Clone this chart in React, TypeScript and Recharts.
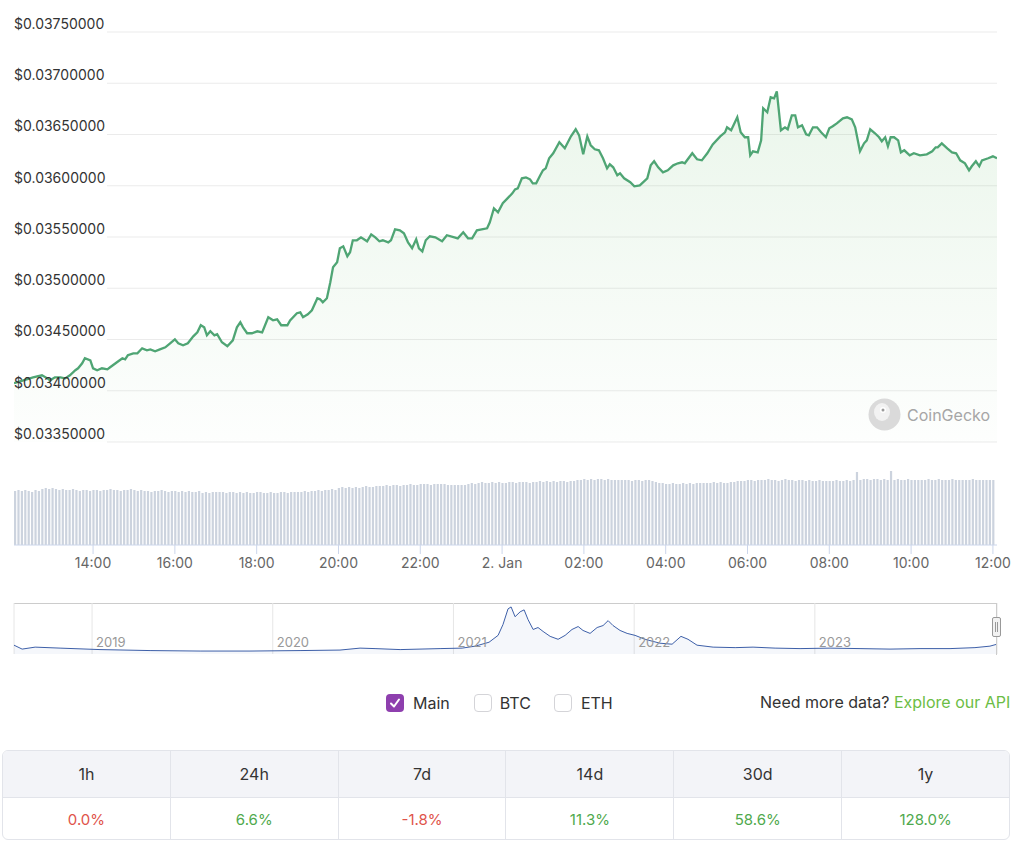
import React from "react";
import { AreaChart, Area, BarChart, Bar, XAxis, YAxis, CartesianGrid } from "recharts";

const FONT = "Inter, 'Helvetica Neue', Arial, sans-serif";

// price, minutes after 12:00 on 1 Jan
const priceMinutes = [
  4, 13, 32, 45, 53, 57, 64, 72, 79, 86, 94, 98, 104, 108, 116, 120, 126, 133, 141, 145, 155, 163, 167, 171, 179, 185, 192,
  199, 204, 211, 218, 226, 233, 240, 245, 252, 259, 267, 273, 278, 283, 287, 292, 298, 302, 309, 317, 325, 331, 336, 340, 346,
  353, 361, 368, 377, 384, 390, 396, 405, 409, 419, 424, 428, 435, 441, 449, 453, 457, 463, 468, 472, 478, 482, 487, 493, 497,
  501, 507, 513, 522, 528, 534, 540, 545, 553, 557, 563, 570, 576, 582, 588, 594, 598, 603, 608, 614, 622, 632, 639, 650, 655,
  663, 670, 676, 683, 698, 702, 708, 714, 721, 735, 739, 743, 749, 755, 761, 765, 770, 776, 780, 784, 789, 795, 804, 812, 821,
  828, 833, 839, 845, 850, 856, 862, 868, 874, 878, 883, 889, 893, 899, 908, 914, 922, 933, 938, 943, 949, 956, 963, 971, 978,
  984, 988, 999, 1006, 1013, 1021, 1029, 1040, 1047, 1050, 1056, 1065, 1070, 1076, 1081, 1084, 1088, 1095, 1100, 1103, 1109,
  1114, 1119, 1123, 1129, 1135, 1139, 1145, 1150, 1154, 1160, 1166, 1170, 1176, 1182, 1188, 1195, 1200, 1205, 1211, 1220, 1226,
  1233, 1238, 1245, 1251, 1255, 1260, 1267, 1273, 1277, 1282, 1286, 1290, 1295, 1301, 1305, 1310, 1318, 1324, 1333, 1343, 1351,
  1356, 1359, 1365, 1373, 1380, 1386, 1392, 1399, 1405, 1409, 1415, 1420, 1424, 1433, 1440, 1446,
];

const prices = [
  0.034073, 0.034092, 0.034131, 0.034151, 0.034121, 0.034102, 0.034131, 0.034131, 0.034121, 0.034151, 0.0342, 0.034219,
  0.034268, 0.034317, 0.034297, 0.034219, 0.0342, 0.034219, 0.034209, 0.034229, 0.034278, 0.034317, 0.034307, 0.034346,
  0.034365, 0.034365, 0.034414, 0.034395, 0.034404, 0.034385, 0.034404, 0.034424, 0.034463, 0.034502, 0.034463, 0.034443,
  0.034463, 0.034531, 0.03457, 0.034639, 0.034619, 0.034541, 0.03458, 0.034541, 0.034551, 0.034473, 0.034434, 0.034492,
  0.034619, 0.034668, 0.034619, 0.034561, 0.034561, 0.03458,
  0.03457, 0.034717, 0.034687, 0.034697, 0.034639, 0.034639, 0.034687, 0.034756, 0.034765, 0.034717, 0.034746, 0.034785,
  0.034902, 0.034892, 0.034863, 0.034902, 0.035058, 0.035204, 0.035253, 0.03539, 0.035409, 0.035312, 0.035351, 0.035468,
  0.035468, 0.035497, 0.035458, 0.035526, 0.035497, 0.035458, 0.035468, 0.035448, 0.035468, 0.035575, 0.035565, 0.035536,
  0.035448, 0.03539, 0.035478, 0.03539, 0.03536, 0.035468, 0.035507, 0.035497, 0.035458, 0.035517, 0.035497, 0.035487,
  0.035546, 0.035487, 0.035487, 0.035565, 0.035585, 0.035643, 0.03578, 0.035741, 0.035829,
  0.035926, 0.035965, 0.035975, 0.036073, 0.036082, 0.036063, 0.036024, 0.036024, 0.036102, 0.036151, 0.03617, 0.036268,
  0.036317, 0.036424, 0.036365, 0.036482, 0.036551, 0.036492, 0.036307, 0.036482, 0.036395, 0.036356, 0.036346, 0.036268,
  0.03617, 0.036209, 0.03618, 0.036102, 0.036121, 0.036073, 0.036034, 0.035995, 0.036004, 0.036073, 0.036199, 0.036239,
  0.03618, 0.036131, 0.036151, 0.036199, 0.036219, 0.036229, 0.036219, 0.036317, 0.036258, 0.036248, 0.036317, 0.036404,
  0.036482, 0.036521, 0.03657, 0.036541, 0.036668, 0.036521, 0.036473, 0.036473, 0.036297,
  0.036336, 0.036326, 0.036443, 0.036756, 0.036717, 0.036863, 0.036853, 0.036921, 0.036541, 0.03657, 0.036551, 0.036687,
  0.036687, 0.03657, 0.03659, 0.036502, 0.036492, 0.03657, 0.03657, 0.036521, 0.036473, 0.03656, 0.03658, 0.036609,
  0.036658, 0.036668, 0.036648, 0.03657, 0.036336, 0.036414, 0.036443, 0.036551, 0.036512, 0.036473, 0.036434, 0.036473,
  0.036385, 0.036473, 0.036473, 0.036443, 0.036326, 0.036346, 0.036297, 0.036317, 0.036297, 0.036307, 0.036336, 0.036375,
  0.036375, 0.036414, 0.036365, 0.036326, 0.036317, 0.036248, 0.036219, 0.036151, 0.03619, 0.036239, 0.03619, 0.036248,
  0.036268, 0.036287, 0.036268,
];

// 5-minute volume bars (USD millions), one row per hour
const volumes = [
  5.4, 5.5, 5.4, 5.5, 5.4, 5.3, 5.5, 5.4, 5.6, 5.7, 5.6, 5.7,
  5.6, 5.5, 5.6, 5.5, 5.5, 5.6, 5.5, 5.4, 5.5, 5.5, 5.4, 5.5,
  5.5, 5.4, 5.5, 5.5, 5.6, 5.5, 5.5, 5.4, 5.5, 5.5, 5.6, 5.5,
  5.4, 5.5, 5.4, 5.4, 5.3, 5.4, 5.4, 5.5, 5.4, 5.3, 5.4, 5.4,
  5.3, 5.4, 5.3, 5.4, 5.3, 5.3, 5.4, 5.2, 5.3, 5.2, 5.3, 5.3,
  5.3, 5.3, 5.2, 5.3, 5.3, 5.2, 5.3, 5.2, 5.3, 5.2, 5.2, 5.3,
  5.3, 5.2, 5.2, 5.3, 5.2, 5.2, 5.3, 5.3, 5.2, 5.3, 5.3, 5.3,
  5.3, 5.4, 5.3, 5.4, 5.4, 5.5, 5.4, 5.5, 5.5, 5.6, 5.5, 5.7,
  5.8, 5.7, 5.8, 5.7, 5.8, 5.7, 5.8, 5.9, 5.8, 5.8, 5.9, 5.9,
  5.9, 6.0, 5.9, 6.0, 6.0, 5.9, 6.0, 6.0, 6.1, 6.0, 6.0, 6.1,
  6.1, 6.1, 6.0, 6.1, 6.1, 6.1, 6.1, 6.0, 6.0, 6.0, 6.0, 6.0,
  6.0, 6.1, 6.2, 6.1, 6.2, 6.3, 6.2, 6.2, 6.3, 6.2, 6.3, 6.2,
  6.2, 6.3, 6.3, 6.2, 6.3, 6.3, 6.3, 6.2, 6.3, 6.3, 6.4, 6.3,
  6.4, 6.3, 6.4, 6.3, 6.4, 6.4, 6.3, 6.4, 6.4, 6.5, 6.5, 6.6,
  6.5, 6.6, 6.5, 6.6, 6.6, 6.5, 6.6, 6.5, 6.5, 6.5, 6.5, 6.5,
  6.5, 6.4, 6.5, 6.5, 6.4, 6.5, 6.5, 6.4, 6.3, 6.2, 6.2, 6.1,
  6.1, 6.2, 6.1, 6.1, 6.2, 6.1, 6.2, 6.1, 6.2, 6.2, 6.2, 6.2,
  6.2, 6.3, 6.2, 6.3, 6.2, 6.2, 6.3, 6.3, 6.4, 6.4, 6.4, 6.5,
  6.5, 6.4, 6.5, 6.5, 6.5, 6.6, 6.5, 6.5, 6.4, 6.5, 6.6, 6.5,
  6.5, 6.4, 6.5, 6.5, 6.4, 6.5, 6.4, 6.4, 6.5, 6.4, 6.4, 6.4,
  6.4, 6.5, 6.4, 6.4, 6.5, 6.4, 6.5, 7.3, 6.5, 6.6, 6.6, 6.5,
  6.6, 6.6, 6.5, 6.6, 6.5, 7.4, 6.5, 6.6, 6.5, 6.5, 6.6, 6.5,
  6.5, 6.5, 6.5, 6.5, 6.6, 6.5, 6.5, 6.6, 6.5, 6.5, 6.5, 6.6,
  6.5, 6.5, 6.5, 6.5, 6.5, 6.6, 6.5, 6.5, 6.5, 6.5, 6.5, 6.5,
];

const priceTicks = [0.0335, 0.034, 0.0345, 0.035, 0.0355, 0.036, 0.0365, 0.037, 0.0375];
const timeTicks = [120, 240, 360, 480, 600, 720, 840, 960, 1080, 1200, 1320, 1440];
const timeLabels = ["14:00", "16:00", "18:00", "20:00", "22:00", "2. Jan", "02:00", "04:00", "06:00", "08:00", "10:00", "12:00"];

// navigator: all-time history
const navYears = [
  2018.568, 2018.613, 2018.685, 2018.823, 2019.044, 2019.321, 2019.598, 2019.874, 2020.151, 2020.372, 2020.483, 2020.566,
  2020.705, 2020.926, 2021.048, 2021.12, 2021.197, 2021.247, 2021.274, 2021.302, 2021.319, 2021.341, 2021.369, 2021.391,
  2021.413, 2021.441, 2021.468, 2021.496, 2021.535, 2021.579, 2021.618, 2021.656, 2021.69, 2021.717, 2021.756, 2021.795,
  2021.828, 2021.856, 2021.883, 2021.922, 2021.961, 2022.005, 2022.06, 2022.143, 2022.21, 2022.259, 2022.298, 2022.348,
  2022.437, 2022.559, 2022.658, 2022.78, 2022.918, 2023.084, 2023.25, 2023.416, 2023.582, 2023.748, 2023.886, 2023.969, 2024.008,
];
const navPrices = [
  0.036, 0.02, 0.028, 0.024, 0.018, 0.014, 0.012, 0.012, 0.014, 0.016, 0.024, 0.022,
  0.018, 0.022, 0.024, 0.032, 0.048, 0.076, 0.12, 0.184, 0.192, 0.152, 0.172, 0.18,
  0.14, 0.1, 0.108, 0.092, 0.072, 0.06, 0.076, 0.1, 0.112, 0.096, 0.084, 0.108,
  0.116, 0.136, 0.116, 0.096, 0.084, 0.076, 0.06, 0.044, 0.04, 0.072, 0.06, 0.036,
  0.028, 0.026, 0.028, 0.024, 0.022, 0.024, 0.022, 0.02, 0.022, 0.022, 0.026, 0.032, 0.04,
];
const navYearTicks = [2019, 2020, 2021, 2022, 2023];

const periods = ["1h", "24h", "7d", "14d", "30d", "1y"];
const changes = ["0.0%", "6.6%", "-1.8%", "11.3%", "58.6%", "128.0%"];
const changeUp = [false, true, false, true, true, true];

const priceData = priceMinutes.map((t, i) => ({ t, price: prices[i] }));
const volumeData = volumes.map((v, i) => ({ t: 5 + i * 5, volume: v }));
const navData = navYears.map((year, i) => ({ year, price: navPrices[i] }));

const PriceTick = ({ y, payload }: any) => (
  <text x={14} y={y - 8} dy="0.35em" fontSize={14} fill="#333" fontFamily={FONT} textAnchor="start">
    {`$${Number(payload.value).toFixed(8)}`}
  </text>
);

const YearTick = ({ x, y, payload }: any) => (
  <text x={x + 4} y={y - 15} fontSize={13} fill="#999" fontFamily={FONT} textAnchor="start">
    {payload.value}
  </text>
);

function CheckBox({ checked }: { checked?: boolean }) {
  return (
    <div
      style={{
        width: 18, height: 18, borderRadius: 4, boxSizing: "border-box",
        background: checked ? "#8e3fae" : "#fff",
        border: checked ? "none" : "1px solid #d4d4d8",
        display: "flex", alignItems: "center", justifyContent: "center",
      }}
    >
      {checked && (
        <svg width="12" height="12" viewBox="0 0 12 12">
          <path d="M2 6.5 L5 9.5 L10 2.5" stroke="#fff" strokeWidth="2" fill="none" strokeLinecap="round" strokeLinejoin="round" />
        </svg>
      )}
    </div>
  );
}

export default function App() {
  return (
    <div style={{ position: "absolute", left: 0, top: 0, width: 1024, height: 852, background: "#fff", fontFamily: FONT, overflow: "hidden" }}>
      <div style={{ position: "absolute", left: 0, top: 0 }}>
        <AreaChart width={1024} height={460} data={priceData} margin={{ top: 32, right: 27, left: 13, bottom: 18 }}>
          <defs>
            <linearGradient id="priceFill" x1="0" y1="0" x2="0" y2="1">
              <stop offset="0%" stopColor="#6fbf73" stopOpacity={0.24} />
              <stop offset="100%" stopColor="#6fbf73" stopOpacity={0.02} />
            </linearGradient>
          </defs>
          <CartesianGrid
            vertical={false}
            horizontal={(p: any) => <line key={p.key} x1={107} y1={p.y1} x2={p.x2} y2={p.y2} stroke="#ebebeb" strokeWidth={1} />}
          />
          <XAxis dataKey="t" type="number" domain={[4, 1446]} hide allowDataOverflow />
          <YAxis
            type="number"
            domain={[0.0335, 0.0375]}
            ticks={priceTicks}
            width={1}
            axisLine={false}
            tickLine={false}
            tick={<PriceTick />}
            interval={0}
            allowDataOverflow
          />
          <Area
            type="linear"
            dataKey="price"
            stroke="#4fa574"
            strokeWidth={2.3}
            fill="url(#priceFill)"
            isAnimationActive={false}
            dot={false}
            activeDot={false}
          />
        </AreaChart>
      </div>

      {/* watermark */}
      <div style={{ position: "absolute", left: 868, top: 398, display: "flex", alignItems: "center" }}>
        <svg width="33" height="33" viewBox="0 0 33 33">
          <circle cx="16.5" cy="16.5" r="16" fill="#dadada" />
          <ellipse cx="14" cy="14" rx="8" ry="9" fill="#f2f2f2" />
          <circle cx="15" cy="12" r="3" fill="#fff" />
          <circle cx="15" cy="12" r="1.5" fill="#9a9a9a" />
        </svg>
        <span style={{ marginLeft: 6, fontSize: 16, color: "#a6a6a6" }}>CoinGecko</span>
      </div>

      <div style={{ position: "absolute", left: 0, top: 460 }}>
        <BarChart width={1024} height={120} data={volumeData} margin={{ top: 5, right: 27, left: 14, bottom: 0 }}>
          <XAxis
            dataKey="t"
            type="number"
            domain={[4, 1446]}
            ticks={timeTicks}
            tickFormatter={(v: number) => timeLabels[timeTicks.indexOf(v)]}
            height={35}
            stroke="#ccd6eb"
            tickSize={9}
            tickMargin={4}
            tick={{ fill: "#666", fontSize: 14, fontFamily: FONT }}
            allowDataOverflow
          />
          <YAxis domain={[0, 8]} hide />
          <Bar dataKey="volume" fill="#ccd3de" barSize={2.2} isAnimationActive={false} />
        </BarChart>
      </div>

      {/* navigator */}
      <div style={{ position: "absolute", left: 14, top: 603, width: 983, height: 1, background: "#cccccc" }} />
      <div style={{ position: "absolute", left: 0, top: 603 }}>
        <AreaChart width={1024} height={52} data={navData} margin={{ top: 0, right: 27, left: 14, bottom: 0 }}>
          <CartesianGrid horizontal={false} stroke="#e6e6e6" />
          <XAxis
            dataKey="year"
            type="number"
            domain={[2018.568, 2024.008]}
            ticks={navYearTicks}
            height={1}
            axisLine={false}
            tickLine={false}
            tick={<YearTick />}
            interval={0}
            allowDataOverflow
          />
          <YAxis domain={[0, 0.208]} hide />
          <Area
            type="linear"
            dataKey="price"
            stroke="#3d5fa8"
            strokeWidth={1}
            fill="#335cad"
            fillOpacity={0.05}
            isAnimationActive={false}
            dot={false}
            activeDot={false}
          />
        </AreaChart>
      </div>
      <div style={{ position: "absolute", left: 996, top: 603, width: 1, height: 52, background: "#cccccc" }} />
      <div
        style={{
          position: "absolute", left: 992, top: 617, width: 9, height: 20, boxSizing: "border-box",
          background: "#f2f2f2", border: "1px solid #999", borderRadius: 2,
        }}
      >
        <div style={{ position: "absolute", left: 2, top: 4, width: 1, height: 10, background: "#999" }} />
        <div style={{ position: "absolute", left: 4, top: 4, width: 1, height: 10, background: "#999" }} />
      </div>

      {/* series toggles */}
      <div style={{ position: "absolute", top: 693, left: 386, display: "flex", alignItems: "center", fontSize: 16, color: "#333" }}>
        <CheckBox checked />
        <span style={{ marginLeft: 9, marginRight: 24 }}>Main</span>
        <CheckBox />
        <span style={{ marginLeft: 8, marginRight: 23 }}>BTC</span>
        <CheckBox />
        <span style={{ marginLeft: 9 }}>ETH</span>
      </div>
      <div style={{ position: "absolute", top: 692, left: 760, fontSize: 16, color: "#333", whiteSpace: "nowrap" }}>
        Need more data? <span style={{ color: "#6cbd45" }}>Explore our API</span>
      </div>

      {/* change table */}
      <div
        style={{
          position: "absolute", left: 2, top: 750, width: 1008, height: 90, boxSizing: "border-box",
          border: "1px solid #e2e4ea", borderRadius: 6, overflow: "hidden",
        }}
      >
        <div style={{ display: "flex", height: 46, background: "#f3f4f8", borderBottom: "1px solid #e2e4ea" }}>
          {periods.map((p, i) => (
            <div
              key={p}
              style={{
                flex: 1, display: "flex", alignItems: "center", justifyContent: "center", fontSize: 16, color: "#333",
                borderRight: i < periods.length - 1 ? "1px solid #e2e4ea" : "none",
              }}
            >
              {p}
            </div>
          ))}
        </div>
        <div style={{ display: "flex", height: 42 }}>
          {changes.map((c, i) => (
            <div
              key={periods[i]}
              style={{
                flex: 1, display: "flex", alignItems: "center", justifyContent: "center", fontSize: 15,
                color: changeUp[i] ? "#4fa94d" : "#e0534a",
                borderRight: i < changes.length - 1 ? "1px solid #e2e4ea" : "none",
              }}
            >
              {c}
            </div>
          ))}
        </div>
      </div>
    </div>
  );
}
